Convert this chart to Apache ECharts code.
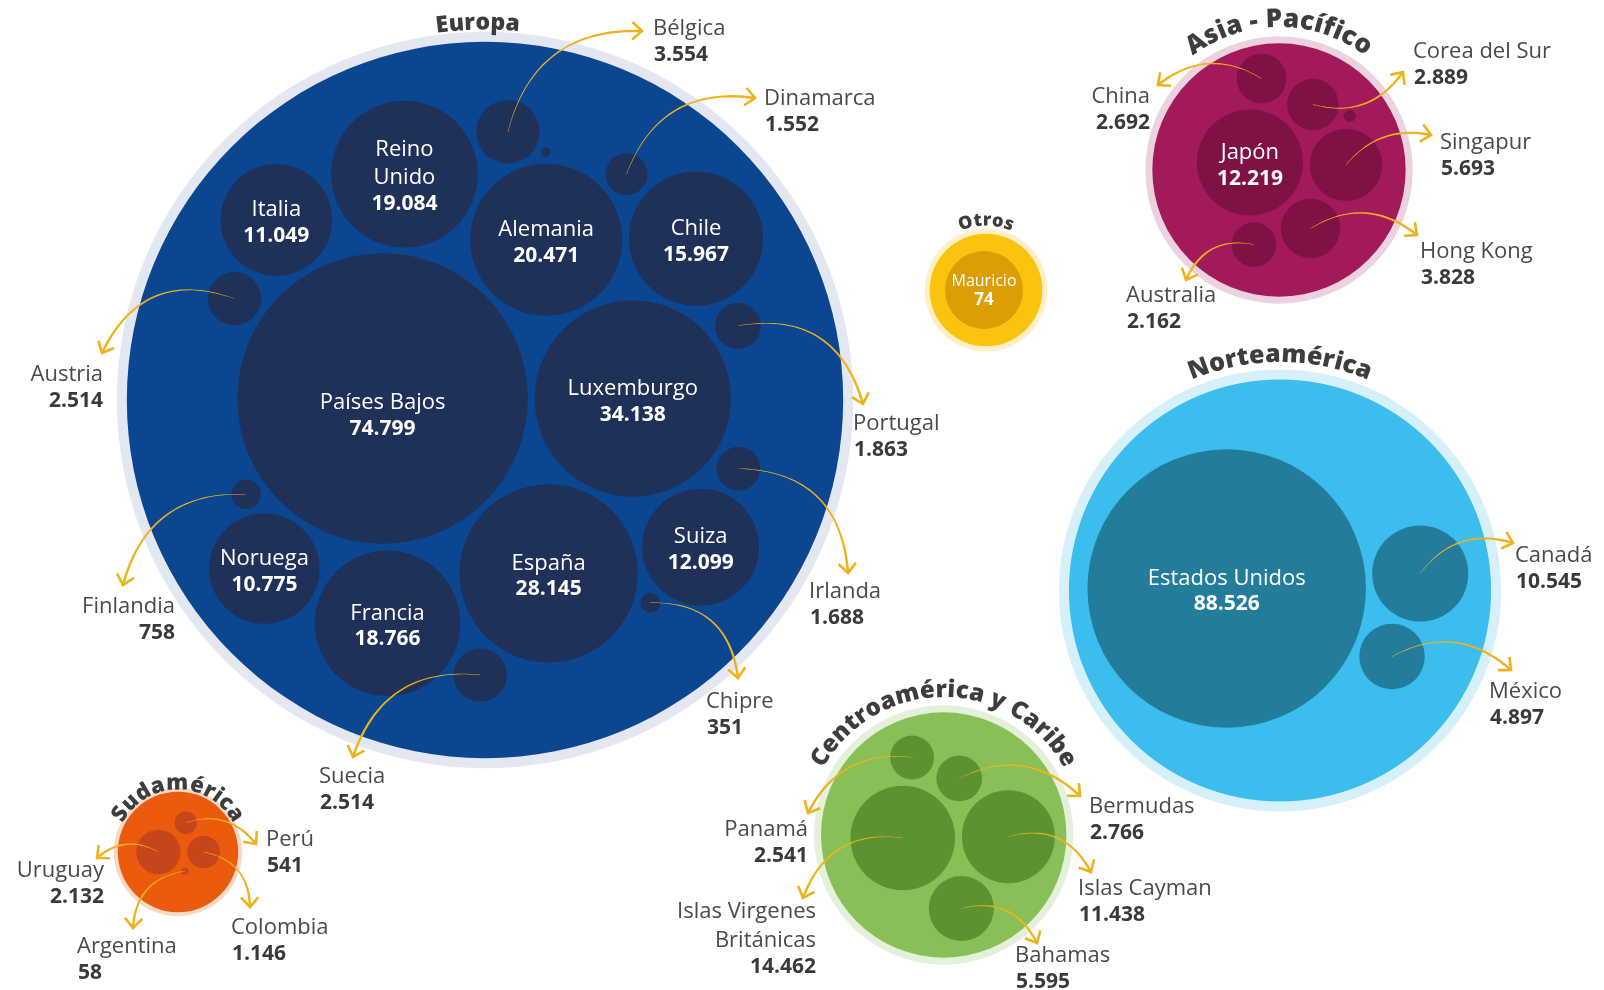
<!DOCTYPE html>
<html>
<head>
<meta charset="utf-8">
<title>Inversión por país y región</title>
<script src="https://cdn.jsdelivr.net/npm/echarts@6/dist/echarts.min.js"></script>
<style>
  html, body { margin: 0; padding: 0; background: #fff; }
  #main { width: 1604px; height: 990px; }
</style>
</head>
<body>
<div id="main"></div>
<script>
// ---- datos ----
var regiones = ["Europa", "Asia - Pacífico", "Otros", "Norteamérica", "Centroamérica y Caribe", "Sudamérica"];

var europaPaises = ["Países Bajos", "Luxemburgo", "España", "Alemania", "Reino Unido", "Francia", "Chile", "Suiza",
  "Italia", "Noruega", "Bélgica", "Austria", "Suecia", "Portugal", "Irlanda", "Dinamarca", "Finlandia", "Chipre", ""];
var europaValores = [74799, 34138, 28145, 20471, 19084, 18766, 15967, 12099, 11049, 10775, 3554, 2514, 2514, 1863, 1688, 1552, 758, 351, 78];

var asiaPaises = ["Japón", "Singapur", "Hong Kong", "Corea del Sur", "China", "Australia", ""];
var asiaValores = [12219, 5693, 3828, 2889, 2692, 2162, 156];

var otrosPaises = ["Mauricio"];
var otrosValores = [74];

var nortePaises = ["Estados Unidos", "Canadá", "México"];
var norteValores = [88526, 10545, 4897];

var centroPaises = ["Islas Virgenes Británicas", "Islas Cayman", "Bahamas", "Bermudas", "Panamá"];
var centroValores = [14462, 11438, 5595, 2766, 2541];

var surPaises = ["Uruguay", "Colombia", "Perú", "Argentina"];
var surValores = [2132, 1146, 541, 58];

// ---- layout (posiciones, tamaños, estilos) ----
var PAD = 3.4;
var FONT = "'Open Sans', Lato, sans-serif";
// permuteFrom: a partir de ese puesto se prueba el orden de empaquetado que deja las flechas más cortas
var regionLayout = {
  "Europa": { c: [485, 400], shift: [0, 0], k: 0.531, edge: 22, ring: 10, rot: 0, flip: false, permuteFrom: 11,
    title: 23, titleGap: 1, titleRot: -1.1, fill: "#0b4691", bubble: "#1f3059", halo: "#e3e7f1" },
  "Asia - Pacífico": { c: [1279, 170], shift: [-5, -9], k: 0.48, edge: 15, ring: 7, rot: 1.4, flip: false,
    title: 26, titleGap: 8, titleRot: 0, fill: "#a31a5b", bubble: "#7e1245", halo: "#ecd1de" },
  "Otros": { c: [986, 290], shift: [-2, 0], k: 4.53, edge: 14, ring: 5, rot: 0, flip: false,
    title: 18, titleGap: 2, titleRot: 0, fill: "#fac310", bubble: "#dc9e05", halo: "#fdf0c6", small: true },
  "Norteamérica": { c: [1280, 590.5], shift: [-2, -6], k: 0.468, edge: 17, ring: 10, rot: -4.4, flip: false,
    title: 25, titleGap: 6, titleRot: 0, fill: "#3bbded", bubble: "#247c9b", halo: "#d6f0fa" },
  "Centroamérica y Caribe": { c: [943.7, 835], shift: [4, 0], k: 0.435, edge: 12, ring: 7, rot: -0.7, flip: false,
    title: 24, titleGap: 7, titleRot: 0, fill: "#88c057", bubble: "#5b9331", halo: "#e4f1da" },
  "Sudamérica": { c: [178, 852], shift: [0, 0], k: 0.48, edge: 15, ring: 4, rot: 0, flip: true, permuteFrom: 2,
    title: 22, titleGap: -3, titleRot: 0, fill: "#ea5b0e", bubble: "#c4461a", halo: "#f9d8c8" }
};

// etiquetas externas: punta de flecha, curvatura, posición del texto
var callouts = {
  "Bélgica":   { tip: [642, 31],  bend: -0.4,  label: [653, 29],  align: "left" },
  "Dinamarca": { tip: [755, 98],  bend: -0.4,  label: [764, 99],  align: "left" },
  "Austria":   { tip: [102, 353], bend: 0.45,  label: [103, 375], align: "right" },
  "Portugal":  { tip: [863, 404], bend: -0.45, label: [853, 424], align: "left" },
  "Irlanda":   { tip: [848, 573], bend: -0.45, label: [809, 592], align: "left" },
  "Chipre":    { tip: [738, 678], bend: -0.45, label: [706, 702], align: "left" },
  "Suecia":    { tip: [353, 757], bend: 0.4,   label: [319, 777], align: "left" },
  "Finlandia": { tip: [123, 585], bend: 0.4,   label: [175, 607], align: "right" },
  "China":     { tip: [1158, 85], bend: 0.35,  label: [1150, 97], align: "right" },
  "Corea del Sur": { tip: [1403, 72], bend: 0.35, label: [1413, 52], align: "left" },
  "Singapur":  { tip: [1431, 135], bend: -0.3, label: [1440, 143], align: "left" },
  "Hong Kong": { tip: [1417, 235], bend: -0.35, label: [1420, 252], align: "left" },
  "Australia": { tip: [1186, 280], bend: 0.4,  label: [1126, 296], align: "left" },
  "Canadá":    { tip: [1513, 543], bend: -0.35, label: [1515, 556], align: "left" },
  "México":    { tip: [1511, 670], bend: -0.35, label: [1489, 692], align: "left" },
  "Panamá":    { tip: [808, 813],  bend: 0.35, label: [808, 830], align: "right" },
  "Bermudas":  { tip: [1080, 796], bend: -0.35, label: [1089, 807], align: "left" },
  "Islas Virgenes Británicas": { tip: [803, 898], bend: 0.4, label: [816, 912], align: "right" },
  "Islas Cayman": { tip: [1091, 872], bend: -0.4, label: [1078, 889], align: "left" },
  "Bahamas":   { tip: [1037, 943], bend: -0.4, label: [1015, 956], align: "left" },
  "Uruguay":   { tip: [97, 858],  bend: 0.35,  label: [104, 871], align: "right" },
  "Perú":      { tip: [256, 844], bend: -0.35, label: [266, 840], align: "left" },
  "Colombia":  { tip: [250, 907], bend: -0.4,  label: [231, 928], align: "left" },
  "Argentina": { tip: [133, 928], bend: 0.4,   label: [77, 947],  align: "left" }
};
var lineBreaks = {
  "Reino Unido": ["Reino", "Unido"],
  "Islas Virgenes Británicas": ["Islas Virgenes", "Británicas"]
};
// desplazamiento vertical del texto interior
var innerLabelShift = { "Países Bajos": 14 };

var regionTable = [
  { name: regiones[0], paises: europaPaises, valores: europaValores },
  { name: regiones[1], paises: asiaPaises, valores: asiaValores },
  { name: regiones[2], paises: otrosPaises, valores: otrosValores },
  { name: regiones[3], paises: nortePaises, valores: norteValores },
  { name: regiones[4], paises: centroPaises, valores: centroValores },
  { name: regiones[5], paises: surPaises, valores: surValores }
];

function fmt(v) {
  return String(v).replace(/\B(?=(\d{3})+(?!\d))/g, ".");
}

// ---- circle packing (front-chain, como d3.packSiblings) ----
function place(b, a, c) {
  var dx = b.x - a.x, dy = b.y - a.y, d2 = dx * dx + dy * dy, x, y, a2, b2;
  if (d2) {
    a2 = a.r + c.r; a2 *= a2;
    b2 = b.r + c.r; b2 *= b2;
    if (a2 > b2) {
      x = (d2 + b2 - a2) / (2 * d2);
      y = Math.sqrt(Math.max(0, b2 / d2 - x * x));
      c.x = b.x - x * dx - y * dy;
      c.y = b.y - x * dy + y * dx;
    } else {
      x = (d2 + a2 - b2) / (2 * d2);
      y = Math.sqrt(Math.max(0, a2 / d2 - x * x));
      c.x = a.x + x * dx - y * dy;
      c.y = a.y + x * dy + y * dx;
    }
  } else {
    c.x = a.x + c.r;
    c.y = a.y;
  }
}
function intersects(a, b) {
  var dr = a.r + b.r - 1e-6, dx = b.x - a.x, dy = b.y - a.y;
  return dr > 0 && dr * dr > dx * dx + dy * dy;
}
function score(node) {
  var a = node._, b = node.next._, ab = a.r + b.r,
    dx = (a.x * b.r + b.x * a.r) / ab,
    dy = (a.y * b.r + b.y * a.r) / ab;
  return dx * dx + dy * dy;
}
function mkNode(circle) {
  return { _: circle, next: null, previous: null };
}
function enclosesNot(a, b) {
  var dr = a.r - b.r, dx = b.x - a.x, dy = b.y - a.y;
  return dr < 0 || dr * dr < dx * dx + dy * dy;
}
function enclosesWeak(a, b) {
  var dr = a.r - b.r + Math.max(a.r, b.r, 1) * 1e-9, dx = b.x - a.x, dy = b.y - a.y;
  return dr > 0 && dr * dr > dx * dx + dy * dy;
}
function enclosesWeakAll(a, B) {
  for (var i = 0; i < B.length; ++i) if (!enclosesWeak(a, B[i])) return false;
  return true;
}
function basis2(a, b) {
  var x21 = b.x - a.x, y21 = b.y - a.y, r21 = b.r - a.r, l = Math.sqrt(x21 * x21 + y21 * y21);
  return { x: (a.x + b.x + x21 / l * r21) / 2, y: (a.y + b.y + y21 / l * r21) / 2, r: (l + a.r + b.r) / 2 };
}
function basis3(a, b, c) {
  var x1 = a.x, y1 = a.y, r1 = a.r, x2 = b.x, y2 = b.y, r2 = b.r, x3 = c.x, y3 = c.y, r3 = c.r,
    a2 = x1 - x2, a3 = x1 - x3, b2 = y1 - y2, b3 = y1 - y3, c2 = r2 - r1, c3 = r3 - r1,
    d1 = x1 * x1 + y1 * y1 - r1 * r1,
    d2 = d1 - x2 * x2 - y2 * y2 + r2 * r2,
    d3 = d1 - x3 * x3 - y3 * y3 + r3 * r3,
    ab = a3 * b2 - a2 * b3,
    xa = (b2 * d3 - b3 * d2) / (ab * 2) - x1,
    xb = (b3 * c2 - b2 * c3) / ab,
    ya = (a3 * d2 - a2 * d3) / (ab * 2) - y1,
    yb = (a2 * c3 - a3 * c2) / ab,
    A = xb * xb + yb * yb - 1,
    B = 2 * (r1 + xa * xb + ya * yb),
    C = xa * xa + ya * ya - r1 * r1,
    r = -(Math.abs(A) > 1e-6 ? (B + Math.sqrt(B * B - 4 * A * C)) / (2 * A) : C / B);
  return { x: x1 + xa + xb * r, y: y1 + ya + yb * r, r: r };
}
function basis(B) {
  if (B.length === 1) return { x: B[0].x, y: B[0].y, r: B[0].r };
  if (B.length === 2) return basis2(B[0], B[1]);
  return basis3(B[0], B[1], B[2]);
}
function extendBasis(B, p) {
  var i, j;
  if (enclosesWeakAll(p, B)) return [p];
  for (i = 0; i < B.length; ++i) {
    if (enclosesNot(p, B[i]) && enclosesWeakAll(basis2(B[i], p), B)) return [B[i], p];
  }
  for (i = 0; i < B.length - 1; ++i) {
    for (j = i + 1; j < B.length; ++j) {
      if (enclosesNot(basis2(B[i], B[j]), p) && enclosesNot(basis2(B[i], p), B[j]) &&
          enclosesNot(basis2(B[j], p), B[i]) && enclosesWeakAll(basis3(B[i], B[j], p), B)) {
        return [B[i], B[j], p];
      }
    }
  }
  return [p];
}
function enclose(circles) {
  var i = 0, n = circles.length, B = [], p, e, guard = 0;
  while (i < n && guard++ < 100000) {
    p = circles[i];
    if (e && enclosesWeak(e, p)) ++i;
    else { B = extendBasis(B, p); e = basis(B); i = 0; }
  }
  return e;
}
function packSiblings(circles) {
  var n = circles.length, a, b, c, aa, ca, i, j, k, sj, sk, e;
  if (!n) return 0;
  a = circles[0]; a.x = 0; a.y = 0;
  if (n === 1) return a.r;
  b = circles[1]; a.x = -b.r; b.x = a.r; b.y = 0;
  if (n > 2) {
    place(b, a, c = circles[2]);
    a = mkNode(a); b = mkNode(b); c = mkNode(c);
    a.next = c.previous = b;
    b.next = a.previous = c;
    c.next = b.previous = a;
    pack: for (i = 3; i < n; ++i) {
      place(a._, b._, c = circles[i]);
      c = mkNode(c);
      j = b.next; k = a.previous; sj = b._.r; sk = a._.r;
      do {
        if (sj <= sk) {
          if (intersects(j._, c._)) { b = j; a.next = b; b.previous = a; --i; continue pack; }
          sj += j._.r; j = j.next;
        } else {
          if (intersects(k._, c._)) { a = k; a.next = b; b.previous = a; --i; continue pack; }
          sk += k._.r; k = k.previous;
        }
      } while (j !== k.next);
      c.previous = a; c.next = b; a.next = b.previous = b = c;
      aa = score(a);
      while ((c = c.next) !== b) {
        if ((ca = score(c)) < aa) { a = c; aa = ca; }
      }
      b = a.next;
    }
    var chain = [b._];
    c = b;
    while ((c = c.next) !== b) chain.push(c._);
    e = enclose(chain);
  } else {
    e = enclose([circles[0], circles[1]]);
  }
  for (i = 0; i < n; ++i) { circles[i].x -= e.x; circles[i].y -= e.y; }
  return e.r;
}

function toPage(x, y, L) {
  var ang = L.rot * Math.PI / 180;
  if (L.flip) y = -y;
  return [L.c[0] + L.shift[0] + x * Math.cos(ang) - y * Math.sin(ang),
          L.c[1] + L.shift[1] + x * Math.sin(ang) + y * Math.cos(ang)];
}

function permutations(arr) {
  var out = [];
  (function rec(cur, rest) {
    if (!rest.length) { out.push(cur); return; }
    for (var i = 0; i < rest.length; i++) {
      rec(cur.concat([rest[i]]), rest.slice(0, i).concat(rest.slice(i + 1)));
    }
  })([], arr);
  return out;
}

// orden de empaquetado: por valor; la cola se reordena para acortar las flechas
function packOrder(items, L) {
  var base = items.slice().sort(function (a, b) { return b.value - a.value; });
  if (L.permuteFrom == null) return base;
  var head = base.slice(0, L.permuteFrom);
  var tail = base.slice(L.permuteFrom).filter(function (it) { return callouts[it.name]; });
  var rest = base.slice(L.permuteFrom).filter(function (it) { return !callouts[it.name]; });
  var best = base, bestCost = Infinity;
  permutations(tail).forEach(function (perm) {
    var seq = head.concat(perm, rest);
    var tmp = seq.map(function (it) { return { r: it.r, name: it.name }; });
    packSiblings(tmp);
    var cost = 0;
    tmp.forEach(function (t) {
      var co = callouts[t.name];
      if (!co) return;
      var p = toPage(t.x, t.y, L);
      cost += (p[0] - co.tip[0]) * (p[0] - co.tip[0]) + (p[1] - co.tip[1]) * (p[1] - co.tip[1]);
    });
    if (cost < bestCost) { bestCost = cost; best = seq; }
  });
  return best;
}

// ---- construir datos para las series ----
var regionRows = [];
var bubbleRows = [];
var bubbleInfo = [];
var calloutRows = [];
var calloutInfo = [];

regionTable.forEach(function (reg) {
  var L = regionLayout[reg.name];
  var items = reg.paises.map(function (p, i) {
    return { name: p, value: reg.valores[i], r: L.k * Math.sqrt(reg.valores[i]) + PAD };
  });
  var R = packSiblings(packOrder(items, L));
  regionRows.push([L.c[0], L.c[1], R + L.edge, L.ring]);
  items.forEach(function (it) {
    var p = toPage(it.x, it.y, L);
    bubbleRows.push([p[0], p[1], it.r - PAD, it.value]);
    bubbleInfo.push({ name: it.name, region: reg.name });
    var co = callouts[it.name];
    if (co) {
      calloutRows.push([p[0], p[1], co.tip[0], co.tip[1], co.bend, co.label[0], co.label[1]]);
      calloutInfo.push({ name: it.name, value: it.value, align: co.align });
    }
  });
});

// ---- render helpers ----
var measureCtx = document.createElement("canvas").getContext("2d");

function arcText(out, text, cx, cy, rBase, size, rotDeg) {
  measureCtx.font = "800 " + size + "px " + FONT;
  var chars = Array.from(text);
  var widths = chars.map(function (ch) { return measureCtx.measureText(ch).width; });
  var total = widths.reduce(function (s, w) { return s + w; }, 0);
  var span = total / rBase;
  var start = (-90 + rotDeg) * Math.PI / 180 - span / 2;
  var rMid = rBase + size * 0.34;
  var acc = 0;
  chars.forEach(function (ch, i) {
    var th = start + (acc + widths[i] / 2) / rBase;
    acc += widths[i];
    if (ch === " ") return;
    out.push({
      type: "text",
      x: cx + rMid * Math.cos(th),
      y: cy + rMid * Math.sin(th),
      rotation: -(th + Math.PI / 2),
      style: {
        text: ch, fill: "#3d3d3d", fontSize: size, fontWeight: 800, fontFamily: FONT,
        align: "center", verticalAlign: "middle"
      }
    });
  });
}

function renderRegion(params, api) {
  var reg = regionTable[params.dataIndex];
  var L = regionLayout[reg.name];
  var p = api.coord([api.value(0), api.value(1)]);
  var rf = api.size([api.value(2), 0])[0];
  var rr = rf + api.size([api.value(3), 0])[0];
  var kids = [
    { type: "circle", shape: { cx: p[0], cy: p[1], r: rr }, style: { fill: L.halo } },
    { type: "circle", shape: { cx: p[0], cy: p[1], r: rf }, style: { fill: L.fill } }
  ];
  arcText(kids, reg.name, p[0], p[1], rr + L.titleGap, L.title, L.titleRot);
  return { type: "group", children: kids };
}

function renderBubble(params, api) {
  var info = bubbleInfo[params.dataIndex];
  var L = regionLayout[info.region];
  var p = api.coord([api.value(0), api.value(1)]);
  var r = api.size([api.value(2), 0])[0];
  var kids = [{ type: "circle", shape: { cx: p[0], cy: p[1], r: r }, style: { fill: L.bubble } }];
  if (info.name && !callouts[info.name]) {
    var nameSize = L.small ? 16 : 22, valSize = L.small ? 17 : 21;
    var nameStep = L.small ? 20 : 28, valStep = L.small ? 19 : 26;
    var lines = lineBreaks[info.name] || [info.name];
    var spanH = (lines.length - 1) * nameStep + valStep;
    var y0 = p[1] - spanH / 2 + (L.small ? 1 : 3) + (innerLabelShift[info.name] || 0);
    lines.forEach(function (ln, i) {
      kids.push({
        type: "text", x: p[0], y: y0 + i * nameStep,
        style: { text: ln, fill: "#ffffff", fontSize: nameSize, fontFamily: FONT, align: "center", verticalAlign: "middle" }
      });
    });
    kids.push({
      type: "text", x: p[0], y: y0 + (lines.length - 1) * nameStep + valStep,
      style: { text: fmt(api.value(3)), fill: "#ffffff", fontSize: valSize, fontWeight: "bold", fontFamily: FONT, align: "center", verticalAlign: "middle" }
    });
  }
  return { type: "group", children: kids };
}

function renderCallout(params, api) {
  var info = calloutInfo[params.dataIndex];
  var s = api.coord([api.value(0), api.value(1)]);
  var e = api.coord([api.value(2), api.value(3)]);
  var bend = api.value(4);
  var lp = api.coord([api.value(5), api.value(6)]);
  var dx = e[0] - s[0], dy = e[1] - s[1];
  var cp = [(s[0] + e[0]) / 2 - bend * dy, (s[1] + e[1]) / 2 + bend * dx];
  var left = [], right = [];
  var N = 40;
  for (var i = 0; i <= N; i++) {
    var t = i / N, mt = 1 - t;
    var x = mt * mt * s[0] + 2 * mt * t * cp[0] + t * t * e[0];
    var y = mt * mt * s[1] + 2 * mt * t * cp[1] + t * t * e[1];
    var tx = 2 * mt * (cp[0] - s[0]) + 2 * t * (e[0] - cp[0]);
    var ty = 2 * mt * (cp[1] - s[1]) + 2 * t * (e[1] - cp[1]);
    var len = Math.sqrt(tx * tx + ty * ty) || 1;
    var nx = -ty / len, ny = tx / len;
    var w = (0.4 + 2.2 * t) / 2;
    left.push([x + nx * w, y + ny * w]);
    right.push([x - nx * w, y - ny * w]);
  }
  var ux = e[0] - cp[0], uy = e[1] - cp[1], ul = Math.sqrt(ux * ux + uy * uy) || 1;
  ux /= ul; uy /= ul;
  var arm = 13, a = 42 * Math.PI / 180;
  function armPt(sign) {
    var bx = -ux, by = -uy, ca = Math.cos(sign * a), sa = Math.sin(sign * a);
    return [e[0] + arm * (bx * ca - by * sa), e[1] + arm * (bx * sa + by * ca)];
  }
  var color = "#eeb21c";
  var kids = [
    { type: "polygon", shape: { points: left.concat(right.reverse()) }, style: { fill: color } },
    { type: "polyline", shape: { points: [armPt(1), e, armPt(-1)] }, style: { stroke: color, lineWidth: 2.6, fill: null, lineJoin: "miter" } }
  ];
  var lines = lineBreaks[info.name] || [info.name];
  lines.forEach(function (ln, i) {
    kids.push({
      type: "text", x: lp[0], y: lp[1] + i * 29,
      style: { text: ln, fill: "#4a4a4a", fontSize: 22, fontFamily: FONT, align: info.align, verticalAlign: "middle" }
    });
  });
  kids.push({
    type: "text", x: lp[0] + (info.align === "left" ? 1 : 0), y: lp[1] + (lines.length - 1) * 29 + 26,
    style: { text: fmt(info.value), fill: "#3a3a3a", fontSize: 21, fontWeight: "bold", fontFamily: FONT, align: info.align, verticalAlign: "middle" }
  });
  return { type: "group", children: kids };
}

var chart = echarts.init(document.getElementById("main"));
var option = {
  animation: false,
  backgroundColor: "#ffffff",
  grid: { left: 0, right: 0, top: 0, bottom: 0 },
  xAxis: { type: "value", min: 0, max: 1604, show: false },
  yAxis: { type: "value", min: 0, max: 990, inverse: true, show: false },
  series: [
    { type: "custom", name: "regiones", z: 1, silent: true, renderItem: renderRegion, data: regionRows, encode: { x: 0, y: 1 } },
    { type: "custom", name: "países", z: 2, silent: true, renderItem: renderBubble, data: bubbleRows, encode: { x: 0, y: 1 } },
    { type: "custom", name: "etiquetas", z: 3, silent: true, renderItem: renderCallout, data: calloutRows, encode: { x: 0, y: 1 } }
  ]
};
chart.setOption(option);
</script>
</body>
</html>
